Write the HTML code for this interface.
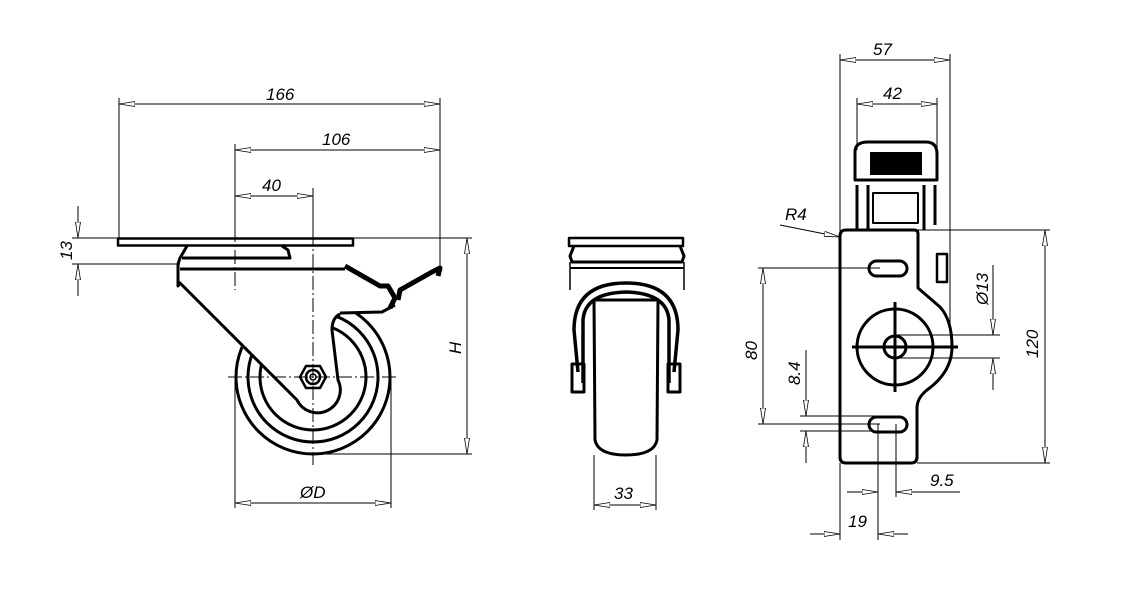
<!DOCTYPE html>
<html><head><style>html,body{margin:0;padding:0;background:#fff}svg{display:block}text{font-family:"Liberation Sans",sans-serif;font-style:italic;font-size:17px;fill:#000}</style></head><body>
<svg width="1136" height="602" viewBox="0 0 1136 602" xmlns="http://www.w3.org/2000/svg">
<defs>
<marker id="a" viewBox="0 0 16 6" refX="16" refY="3" markerWidth="16" markerHeight="6" markerUnits="userSpaceOnUse" orient="auto-start-reverse"><path d="M0,0.5 L16,3 L0,5.5 Z" fill="#fff" stroke="#000" stroke-width="0.8"/></marker>
</defs>
<g fill="none" stroke="#000" stroke-width="1">
<line x1="119" y1="104" x2="440" y2="104" marker-start="url(#a)" marker-end="url(#a)"/>
<line x1="119" y1="98" x2="119" y2="238"/><line x1="440" y1="98" x2="440" y2="270"/>
<line x1="235" y1="150" x2="440" y2="150" marker-start="url(#a)" marker-end="url(#a)"/>
<line x1="235" y1="144" x2="235" y2="232"/>
<line x1="235" y1="196" x2="313" y2="196" marker-start="url(#a)" marker-end="url(#a)"/>
<line x1="313" y1="188" x2="313" y2="232"/>
<line x1="78" y1="206" x2="78" y2="238" marker-end="url(#a)"/><line x1="78" y1="296" x2="78" y2="264" marker-end="url(#a)"/>
<line x1="72" y1="238" x2="117" y2="238"/><line x1="72" y1="264" x2="180" y2="264"/>
<line x1="353" y1="238" x2="472" y2="238"/><line x1="313" y1="454" x2="472" y2="454"/>
<line x1="467" y1="238" x2="467" y2="454" marker-start="url(#a)" marker-end="url(#a)"/>
<line x1="235" y1="380" x2="235" y2="508"/><line x1="391" y1="380" x2="391" y2="508"/>
<line x1="235" y1="503" x2="391" y2="503" marker-start="url(#a)" marker-end="url(#a)"/>
</g>
<g fill="none" stroke="#000" stroke-width="3" stroke-linejoin="round">
<circle cx="313" cy="377" r="77"/>
<circle cx="313" cy="377" r="65"/>
<circle cx="313" cy="377" r="53"/>
<path d="M178,264 L178,286 L297,400 A18,18 0 0 0 338,380 L332,330 Q332,318 340,314 L382,312 L395,305 L345,269 L180,269 Z" fill="#fff" stroke="none"/>
<rect x="118" y="238.5" width="235" height="7" stroke-width="2.5"/>
<path d="M187,246 L180,258 L178,264 L178,286 L180,283 L297,400 A18,18 0 0 0 338,380 L332,330 Q332,318 340,314"/>
<path d="M182,258 L290,258 L288,250 L282,246"/>
<line x1="180" y1="269" x2="345" y2="269"/>
<path d="M340,313 L382,312 L395,305"/>
<polygon points="300,377 306,366 320,366 326,377 320,388 306,388" stroke-width="2.5" fill="#fff"/>
<circle cx="313" cy="377" r="7" stroke-width="2.5"/><circle cx="313" cy="377" r="3" stroke-width="1.5"/>
<path d="M345,266 L380,286 L388,286 L395,298 L390,308" stroke-width="5"/>
<path d="M398,300 L400,290 L432,272 L440,268 L438,276" stroke-width="5"/>
</g>
<g fill="none" stroke="#000" stroke-width="1">
<line x1="235" y1="228" x2="235" y2="290" stroke-dasharray="14,3,2,3"/>
<line x1="313" y1="232" x2="313" y2="465" stroke-dasharray="14,3,2,3"/>
<line x1="228" y1="377" x2="397" y2="377" stroke-dasharray="14,3,2,3"/>
</g>
<text x="266" y="100">166</text><text x="322" y="145">106</text><text x="262" y="191">40</text>
<text transform="translate(72,260) rotate(-90)">13</text>
<text transform="translate(461,354) rotate(-90)">H</text>
<text x="300" y="498">ØD</text>
<!-- MIDDLE VIEW -->
<g fill="none" stroke="#000" stroke-width="3.5" stroke-linejoin="round">
<rect x="569" y="238" width="114" height="8" stroke-width="2.5"/>
<path d="M574,246 L570,256 L572,262 L682,262 L684,256 L680,246" stroke-width="3"/>
<line x1="570" y1="268" x2="684" y2="268" stroke-width="2"/>
<line x1="570" y1="262" x2="570" y2="290" stroke-width="1.5"/><line x1="684" y1="262" x2="684" y2="290" stroke-width="1.5"/>
<path d="M578,372 L574,330 Q574,283 626,283 Q678,283 678,330 L674,372"/>
<path d="M583,383 L583,320 Q585,293 626,292 Q667,293 669,320 L669,383"/>
<path d="M594,300 L658,300 L657,440 Q654,455 626,455 Q598,455 595,440 Z" stroke-width="3"/>
<rect x="572" y="364" width="12" height="28" stroke-width="3"/><rect x="668" y="364" width="12" height="28" stroke-width="3"/>
</g>
<g fill="none" stroke="#000" stroke-width="1">
<line x1="594" y1="455" x2="594" y2="510"/><line x1="656" y1="455" x2="656" y2="510"/>
<line x1="594" y1="505" x2="656" y2="505" marker-start="url(#a)" marker-end="url(#a)"/>
</g>
<text x="614" y="499">33</text>
<!-- RIGHT VIEW -->
<g fill="none" stroke="#000" stroke-width="1">
<line x1="840" y1="54" x2="840" y2="232"/><line x1="950" y1="54" x2="950" y2="330"/>
<line x1="840" y1="60" x2="950" y2="60" marker-start="url(#a)" marker-end="url(#a)"/>
<line x1="857" y1="98" x2="857" y2="150"/><line x1="937" y1="98" x2="937" y2="150"/>
<line x1="857" y1="104" x2="937" y2="104" marker-start="url(#a)" marker-end="url(#a)"/>
<line x1="780" y1="225" x2="840" y2="237" marker-end="url(#a)"/>
<line x1="918" y1="230" x2="1050" y2="230"/><line x1="917" y1="463" x2="1050" y2="463"/>
<line x1="1045" y1="230" x2="1045" y2="463" marker-start="url(#a)" marker-end="url(#a)"/>
<line x1="895" y1="335" x2="1000" y2="335"/><line x1="895" y1="358" x2="1000" y2="358"/>
<line x1="993" y1="265" x2="993" y2="335" marker-end="url(#a)"/><line x1="993" y1="390" x2="993" y2="358" marker-end="url(#a)"/>
<line x1="758" y1="268" x2="880" y2="268"/><line x1="758" y1="424" x2="880" y2="424"/>
<line x1="763" y1="268" x2="763" y2="424" marker-start="url(#a)" marker-end="url(#a)"/>
<line x1="800" y1="416" x2="880" y2="416"/><line x1="800" y1="431" x2="880" y2="431"/>
<line x1="806" y1="350" x2="806" y2="416" marker-end="url(#a)"/><line x1="806" y1="463" x2="806" y2="431" marker-end="url(#a)"/>
<line x1="878" y1="424" x2="878" y2="540"/><line x1="896" y1="424" x2="896" y2="497"/>
<line x1="840" y1="463" x2="840" y2="540"/>
<line x1="847" y1="492" x2="878" y2="492" marker-end="url(#a)"/><line x1="960" y1="492" x2="896" y2="492" marker-end="url(#a)"/>
<line x1="810" y1="534" x2="840" y2="534" marker-end="url(#a)"/><line x1="908" y1="534" x2="878" y2="534" marker-end="url(#a)"/>
</g>
<g fill="none" stroke="#000" stroke-width="3" stroke-linejoin="round">
<path d="M846,230 L914,230 Q918,230 918,234 L918,288 L940,307 Q952,320 952,347 Q952,372 927,390 Q917,398 917,408 L917,457 Q917,463 911,463 L846,463 Q840,463 840,457 L840,236 Q840,230 846,230 Z"/>
<circle cx="895" cy="347" r="38"/><circle cx="895" cy="347" r="11"/>
<rect x="869" y="261" width="38" height="15" rx="7.5"/>
<rect x="869" y="417" width="38" height="15" rx="7.5"/>
<path d="M855,180 L855,152 Q855,142 868,142 L926,142 Q937,142 937,154 L937,180 Z"/>
<line x1="857" y1="185" x2="857" y2="230"/><line x1="868" y1="185" x2="868" y2="230"/>
<line x1="924" y1="185" x2="924" y2="230"/><line x1="935" y1="185" x2="935" y2="225"/>
<rect x="873" y="193" width="45" height="30" stroke-width="2"/>
<rect x="937" y="254" width="10" height="28" stroke-width="2.5"/>
</g>
<rect x="870" y="152" width="52" height="23" fill="#000"/>
<g stroke="#000" stroke-width="3"><line x1="852" y1="347" x2="958" y2="347"/><line x1="895" y1="302" x2="895" y2="392"/></g>
<text x="873" y="55">57</text><text x="883" y="99">42</text><text x="785" y="220">R4</text>
<text transform="translate(1038,358) rotate(-90)">120</text>
<text transform="translate(988,305) rotate(-90)">Ø13</text>
<text transform="translate(757,360) rotate(-90)">80</text>
<text transform="translate(800,385) rotate(-90)">8.4</text>
<text x="930" y="486">9.5</text><text x="848" y="527">19</text>
</svg>
</body></html>
